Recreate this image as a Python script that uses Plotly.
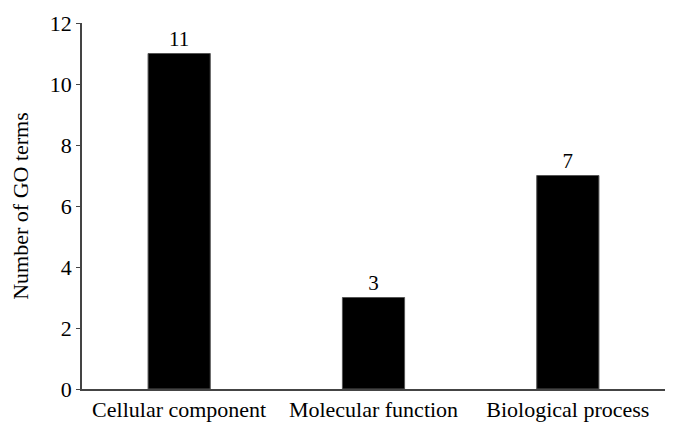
import plotly.graph_objects as go

categorias = ["Cellular component", "Molecular function", "Biological process"]
termos_go = [11, 3, 7]

fig = go.Figure()
fig.add_trace(go.Bar(
    x=categorias, y=termos_go,
    text=termos_go, textposition="outside",
    marker=dict(color="black", line=dict(color="#555555", width=1)),
    textfont=dict(size=21, color="black"),
    cliponaxis=False,
))

# a pagina tem 8px de margem no body, compensado aqui
fig.update_layout(
    width=680, height=437,
    margin=dict(l=74, r=23, t=15, b=56),
    paper_bgcolor="white", plot_bgcolor="white",
    font=dict(family="Liberation Serif", size=22, color="black"),
    bargap=0.68,
    showlegend=False,
)
fig.update_xaxes(
    showline=True, linecolor="#444444", linewidth=1.5,
    ticks="", showgrid=False, automargin=False,
)
fig.update_yaxes(
    range=[0, 12], dtick=2,
    showline=True, linecolor="#444444", linewidth=1.5,
    ticks="outside", ticklen=4, tickcolor="#444444",
    showgrid=False, zeroline=False, automargin=False,
    title=dict(text="Number of GO terms", standoff=15, font=dict(size=22)),
)

fig.write_html("out.html")
